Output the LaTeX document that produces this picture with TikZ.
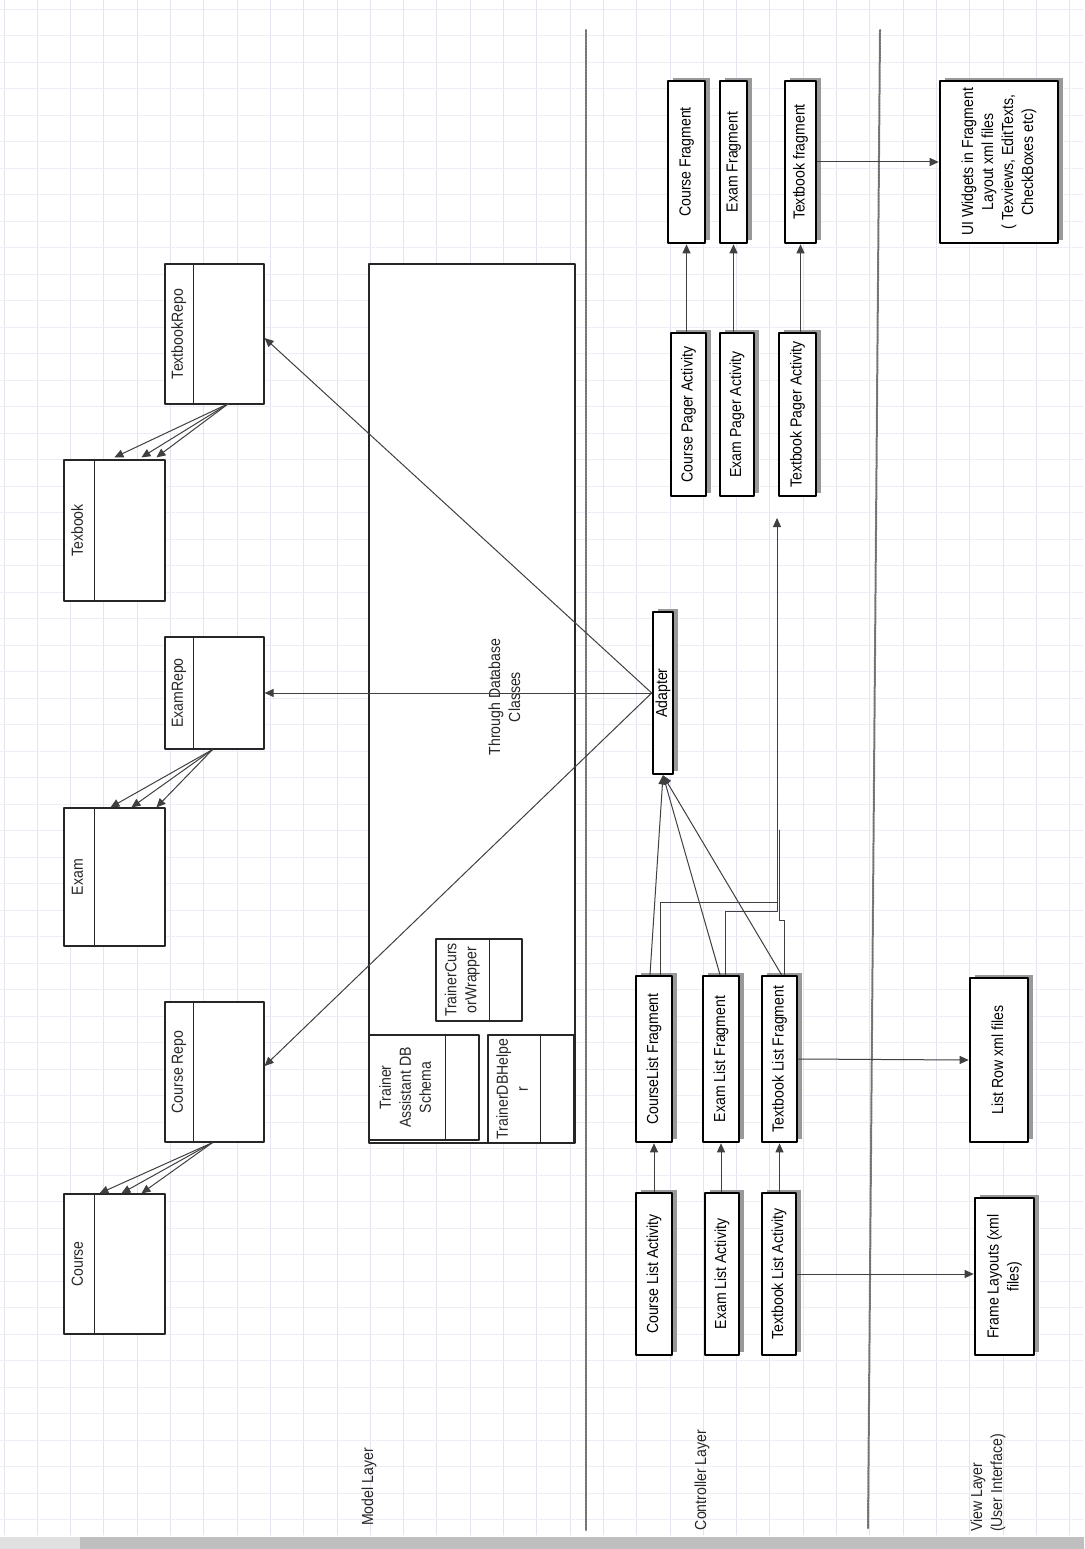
\documentclass[tikz,border=0pt]{standalone}
\usepackage{fontspec}
\setmainfont{Liberation Sans}[FakeStretch=0.88]
\usetikzlibrary{calc,arrows.meta,shadows}

\definecolor{gridcol}{RGB}{226,229,240}
\newcommand{\uptext}[2][c]{\rotatebox{90}{\begin{tabular}{@{}#1@{}}#2\end{tabular}}}
% class box: name, centre, width, height, header width, text
\newcommand{\classbox}[6]{%
  \node[modelbox, minimum width=#3pt, minimum height=#4pt] (#1) at #2 {};
  \draw[modelline] ($(#1.north west)+(#5,0)$) -- ($(#1.south west)+(#5,0)$);
  \node[txt] (#1-head) at ($(#1.west)+({#5/2},0)$) {\uptext{#6}};
}

\tikzset{
  gridv/.style={draw=gridcol, line width=0.8pt},
  gridh/.style={draw=gridcol!70, line width=0.7pt, dash pattern=on 3pt off 1pt},
  modelline/.style={draw=black!85, line width=1.2pt},
  modelbox/.style={modelline, fill=white, inner sep=0pt},
  ctrlbox/.style={draw=black, line width=2.6pt, fill=white, inner sep=0pt,
    drop shadow={shadow xshift=5pt, shadow yshift=3pt, fill=black!40, opacity=1}},
  conn/.style={draw=black!75, line width=1pt},
  arr/.style={conn, -{Triangle[length=9pt,width=8pt]}},
  layerline/.style={draw=black!55, line width=2pt, densely dotted},
  txt/.style={inner sep=0pt, text=black!85},
}

\begin{document}
\begin{tikzpicture}[x=1pt,y=-1pt,line cap=round,line join=round,font=\fontsize{16}{20}\selectfont]
  \useasboundingbox (0,0) rectangle (1084,1549);
  \fill[white] (0,0) rectangle (1084,1549);
  % grid paper
  \foreach \gx in {0,...,32}
    \draw[gridv] ({3.9+33.3*\gx},0) -- ({3.9+33.3*\gx},1535);
  \foreach \gy in {0,...,57}
    \draw[gridh] (0,{9+26.5*\gy}) -- (1084,{9+26.5*\gy});
  \fill[black!25] (0,1537) rectangle (1084,1549);
  \fill[black!12] (0,1537) rectangle (80,1549);

  % layers
  \draw[layerline] (586,30) -- (586,1530);
  \draw[layerline] (880,30) -- (868,1528);
  \node[txt] (modelLayer) at (369,1487) {\uptext{Model Layer}};
  \node[txt] (ctrlLayer) at (702,1480) {\uptext{Controller Layer}};
  \node[txt] (viewLayer) at (988,1483) {\uptext[l]{View Layer\\(User Interface)}};

  % model layer
  \node[modelbox, minimum width=206pt, minimum height=879pt] (dbArea) at (472,703.5) {};
  \node[txt] (dbLabel) at (506,697) {\uptext{Through Database\\Classes}};
  \classbox{textbookRepo}{(214.5,334)}{99}{140}{29}{TextbookRepo}
  \classbox{textbook}{(114.5,530.5)}{101}{141}{31}{Texbook}
  \classbox{examRepo}{(214.5,693)}{99}{112}{29}{ExamRepo}
  \classbox{exam}{(114.5,877)}{101}{138}{31}{Exam}
  \classbox{courseRepo}{(214.5,1072)}{99}{140}{29}{Course Repo}
  \classbox{course}{(114.5,1264)}{101}{140}{31}{Course}
  \classbox{cursorWrapper}{(479,980)}{86}{82}{54}{TrainerCurs\\orWrapper}
  \classbox{dbSchema}{(424,1087.5)}{110}{105}{77}{Trainer\\Assistant DB\\Schema}
  \classbox{dbHelper}{(531,1089)}{86}{108}{53}{TrainerDBHelpe\\r}

  % controller layer
  \node[ctrlbox, minimum width=37pt, minimum height=162pt] (cFrag) at (686.5,162) {\uptext{Course Fragment}};
  \node[ctrlbox, minimum width=27pt, minimum height=162pt] (eFrag) at (733.5,162) {\uptext{Exam Fragment}};
  \node[ctrlbox, minimum width=31pt, minimum height=162pt] (tFrag) at (800.5,162) {\uptext{Textbook fragment}};
  \node[ctrlbox, minimum width=35pt, minimum height=163pt] (cPager) at (688.5,414.5) {\uptext{Course Pager Activity}};
  \node[ctrlbox, minimum width=34pt, minimum height=163pt] (ePager) at (737,414.5) {\uptext{Exam Pager Activity}};
  \node[ctrlbox, minimum width=37pt, minimum height=163pt] (tPager) at (797.5,414.5) {\uptext{Textbook Pager Activity}};
  \node[ctrlbox, minimum width=20pt, minimum height=162pt] (adapter) at (663,693) {\uptext{Adapter}};
  \node[ctrlbox, minimum width=36pt, minimum height=166pt] (cListFrag) at (654,1059) {\uptext{CourseList Fragment}};
  \node[ctrlbox, minimum width=36pt, minimum height=166pt] (eListFrag) at (721,1059) {\uptext{Exam List Fragment}};
  \node[ctrlbox, minimum width=35pt, minimum height=166pt] (tListFrag) at (779.5,1059) {\uptext{Textbook List Fragment}};
  \node[ctrlbox, minimum width=36pt, minimum height=162pt] (cListAct) at (654,1274) {\uptext{Course List Activity}};
  \node[ctrlbox, minimum width=34pt, minimum height=162pt] (eListAct) at (722,1274) {\uptext{Exam List Activity}};
  \node[ctrlbox, minimum width=34pt, minimum height=162pt] (tListAct) at (779,1274) {\uptext{Textbook List Activity}};

  % view layer
  \node[ctrlbox, minimum width=118pt, minimum height=162pt] (uiWidgets) at (999,162)
    {\uptext{UI Widgets in Fragment\\Layout xml files\\( Texviews, EditTexts,\\CheckBoxes etc)}};
  \node[ctrlbox, minimum width=58pt, minimum height=164pt] (listRow) at (999,1060) {\uptext{List Row xml files}};
  \node[ctrlbox, minimum width=59pt, minimum height=157pt] (frameLayouts) at (1004.5,1276.5) {\uptext{Frame Layouts (xml\\files)}};

  % repos to models
  \foreach \dx in {51,78,93}
    \draw[arr] ($(textbookRepo.south)+(14,-1)$) -- ($(textbook.north west)+(\dx,-2)$);
  \foreach \dx in {47,68,93}
    \draw[arr] ($(examRepo.south)+(-2,0)$) -- ($(exam.north west)+(\dx,0)$);
  \foreach \dx in {36,58,78}
    \draw[arr] ($(courseRepo.south)+(-2,0)$) -- ($(course.north west)+(\dx,0)$);

  % adapter
  \draw[arr] (adapter.west) -- ($(textbookRepo.east)+(0,4)$);
  \draw[arr] (adapter.west) -- (examRepo.east);
  \draw[arr] (adapter.west) -- ($(courseRepo.east)+(0,-6)$);
  \draw[arr] ($(cListFrag.north)+(-4,0)$) -- (adapter.south);
  \draw[arr] ($(eListFrag.north)+(-1,0)$) -- (adapter.south);
  \draw[arr] ($(tListFrag.north)+(2,0)$) -- (adapter.south);

  % list fragments to pager
  \coordinate (pagerIn) at (777,518);
  \draw[arr] ($(cListFrag.north)+(6,0)$) |- (777,902) -- (pagerIn);
  \draw[conn] ($(eListFrag.north)+(4,0)$) |- (777,911) -- (777,902);
  \draw[conn] ($(tListFrag.north)+(5,0)$) |- (779.5,920) -- (779.5,830);

  % activities to fragments
  \draw[arr] (cFrag.south |- cPager.north) -- (cFrag.south);
  \draw[arr] (eFrag.south |- ePager.north) -- (eFrag.south);
  \draw[arr] (tFrag.south |- tPager.north) -- (tFrag.south);
  \draw[arr] (cListFrag.south |- cListAct.north) -- (cListFrag.south);
  \draw[arr] (eListFrag.south |- eListAct.north) -- (eListFrag.south);
  \draw[arr] (tListFrag.south |- tListAct.north) -- (tListFrag.south);

  % to view layer
  \draw[arr] (tFrag.east) -- (uiWidgets.west);
  \draw[arr] (tListFrag.east) -- (listRow.west);
  \draw[arr] (tListAct.east) -- (tListAct.east -| frameLayouts.west);
\end{tikzpicture}
\end{document}
